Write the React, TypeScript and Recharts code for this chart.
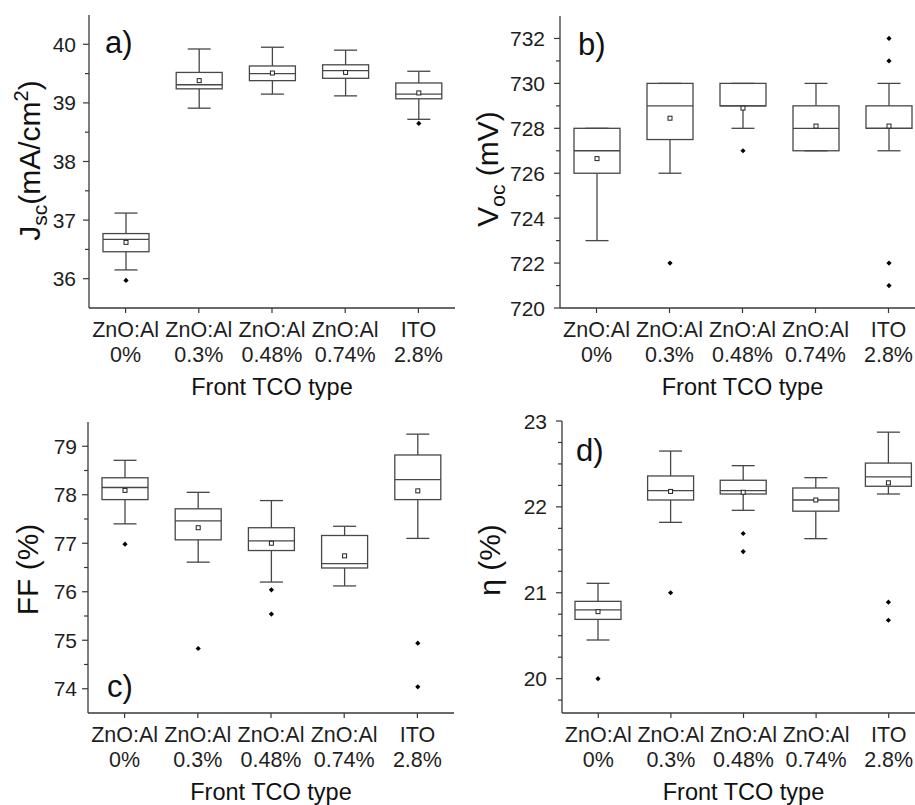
import React from 'react';
import { ComposedChart, Bar, XAxis, YAxis } from 'recharts';

const FONT = "'Liberation Sans', Arial, Helvetica, sans-serif";
const FRAME = '#383838';
const BOX = '#474747';
const TEXT = '#1e1e1e';

// Categories (two-line tick labels)
const tcoLine1 = ['ZnO:Al', 'ZnO:Al', 'ZnO:Al', 'ZnO:Al', 'ITO'];
const tcoLine2 = ['0%', '0.3%', '0.48%', '0.74%', '2.8%'];
const tcoNames = tcoLine1.map((a, i) => `${a} ${tcoLine2[i]}`);
const xAxisTitle = 'Front TCO type';

// a) Jsc (mA/cm2)
const jscMin = [36.15, 38.91, 39.15, 39.12, 38.72];
const jscQ1 = [36.46, 39.24, 39.38, 39.42, 39.07];
const jscMedian = [36.67, 39.31, 39.5, 39.55, 39.15];
const jscMean = [36.62, 39.38, 39.51, 39.52, 39.17];
const jscQ3 = [36.77, 39.52, 39.63, 39.65, 39.34];
const jscMax = [37.12, 39.92, 39.95, 39.9, 39.54];
const jscOutliers = [[35.97], [], [], [], [38.65]];
const jscMajorTicks = [36, 37, 38, 39, 40];
const jscMinorTicks = [36.5, 37.5, 38.5, 39.5];

// b) Voc (mV)
const vocMin = [723, 726, 728, 727, 727];
const vocQ1 = [726, 727.5, 729, 727, 728];
const vocMedian = [727, 729, 729, 728, 728];
const vocMean = [726.65, 728.45, 728.9, 728.1, 728.1];
const vocQ3 = [728, 730, 730, 729, 729];
const vocMax = [728, 730, 730, 730, 730];
const vocOutliers = [[], [722], [727], [], [732, 731, 722, 721]];
const vocMajorTicks = [720, 722, 724, 726, 728, 730, 732];
const vocMinorTicks = [721, 723, 725, 727, 729, 731];

// c) FF (%)
const ffMin = [77.4, 76.61, 76.2, 76.12, 77.1];
const ffQ1 = [77.9, 77.07, 76.85, 76.49, 77.9];
const ffMedian = [78.15, 77.46, 77.05, 76.58, 78.31];
const ffMean = [78.09, 77.32, 77.0, 76.74, 78.08];
const ffQ3 = [78.35, 77.71, 77.32, 77.16, 78.82];
const ffMax = [78.71, 78.05, 77.88, 77.35, 79.25];
const ffOutliers = [[76.98], [74.83], [76.04, 75.54], [], [74.94, 74.04]];
const ffMajorTicks = [74, 75, 76, 77, 78, 79];
const ffMinorTicks = [74.5, 75.5, 76.5, 77.5, 78.5];

// d) eta (%)
const etaMin = [20.45, 21.82, 21.96, 21.63, 22.15];
const etaQ1 = [20.69, 22.08, 22.15, 21.95, 22.24];
const etaMedian = [20.8, 22.19, 22.19, 22.08, 22.35];
const etaMean = [20.78, 22.18, 22.17, 22.08, 22.28];
const etaQ3 = [20.9, 22.36, 22.31, 22.22, 22.51];
const etaMax = [21.11, 22.65, 22.48, 22.34, 22.87];
const etaOutliers = [[20.0], [21.0], [21.69, 21.48], [], [20.89, 20.68]];
const etaMajorTicks = [20, 21, 22, 23];
const etaMinorTicks = [19.75, 20.25, 20.5, 20.75, 21.25, 21.5, 21.75, 22.25, 22.5, 22.75];

type Row = {
  name: string;
  range: [number, number];
  min: number;
  q1: number;
  median: number;
  mean: number;
  q3: number;
  max: number;
  outliers: number[];
};

function buildRows(
  min: number[],
  q1: number[],
  median: number[],
  mean: number[],
  q3: number[],
  max: number[],
  outliers: number[][]
): Row[] {
  return tcoNames.map((name, i) => ({
    name,
    range: [min[i], max[i]],
    min: min[i],
    q1: q1[i],
    median: median[i],
    mean: mean[i],
    q3: q3[i],
    max: max[i],
    outliers: outliers[i],
  }));
}

const BoxShape = (props: any) => {
  const { x, y, width, height, payload } = props;
  if (!payload || height == null || y == null) return null;
  const r: Row = payload;
  const top = Math.min(y, y + height);
  const h = Math.abs(height);
  const ppu = h / (r.max - r.min);
  const py = (v: number) => top + (r.max - v) * ppu;
  const cx = x + width / 2;
  const cap = width / 4;
  const sw = 1.3;
  return (
    <g>
      <line x1={cx} x2={cx} y1={py(r.max)} y2={py(r.q3)} stroke={BOX} strokeWidth={sw} />
      <line x1={cx} x2={cx} y1={py(r.q1)} y2={py(r.min)} stroke={BOX} strokeWidth={sw} />
      <line x1={cx - cap} x2={cx + cap} y1={py(r.max)} y2={py(r.max)} stroke={BOX} strokeWidth={sw} />
      <line x1={cx - cap} x2={cx + cap} y1={py(r.min)} y2={py(r.min)} stroke={BOX} strokeWidth={sw} />
      <rect
        x={x}
        y={py(r.q3)}
        width={width}
        height={py(r.q1) - py(r.q3)}
        fill="none"
        stroke={BOX}
        strokeWidth={sw}
      />
      <line x1={x} x2={x + width} y1={py(r.median)} y2={py(r.median)} stroke={BOX} strokeWidth={sw} />
      <rect x={cx - 2} y={py(r.mean) - 2} width={4} height={4} fill="#fff" stroke="#222" strokeWidth={1} />
      {r.outliers.map((o, k) => {
        const oy = py(o);
        const s = 2.6;
        return (
          <path
            key={k}
            d={`M${cx},${oy - s} L${cx + s},${oy} L${cx},${oy + s} L${cx - s},${oy} Z`}
            fill="#000"
          />
        );
      })}
    </g>
  );
};

type PanelProps = {
  pos: [number, number];
  size: [number, number];
  margin: { top: number; right: number; bottom: number; left: number };
  yWidth: number;
  domain: [number, number];
  majors: number[];
  minors: number[];
  rows: Row[];
  title: React.ReactNode;
  titleDx: number;
  titleDy: number;
  tag: string;
  tagDx: number;
  tagDy: number;
  labelGap: number;
};

function Panel(p: PanelProps) {
  const ticks = [...p.majors, ...p.minors].sort((a, b) => a - b);
  const axisLine = { stroke: FRAME, strokeWidth: 1.3 };

  const leftTick = (t: any) => {
    const v = t.payload.value;
    const major = p.majors.includes(v);
    return (
      <g>
        <line x1={t.x} x2={t.x - (major ? 6 : 4)} y1={t.y} y2={t.y} stroke={FRAME} strokeWidth={1.2} />
        {major && (
          <text
            x={t.x - p.labelGap}
            y={t.y}
            dy="0.36em"
            textAnchor="end"
            fontSize={21}
            fontFamily={FONT}
            fill={TEXT}
          >
            {v}
          </text>
        )}
      </g>
    );
  };
  const rightTick = (t: any) => (
    <line x1={t.x} x2={t.x + 4} y1={t.y} y2={t.y} stroke={FRAME} strokeWidth={1.2} />
  );
  const topTick = (t: any) => (
    <line x1={t.x} x2={t.x} y1={t.y} y2={t.y - 5} stroke={FRAME} strokeWidth={1.2} />
  );
  const bottomTick = (t: any) => {
    const i = tcoNames.indexOf(t.payload.value);
    return (
      <g>
        <line x1={t.x} x2={t.x} y1={t.y} y2={t.y + 5} stroke={FRAME} strokeWidth={1.2} />
        <text x={t.x} y={t.y + 29} textAnchor="middle" fontSize={21.5} fontFamily={FONT} fill={TEXT}>
          {tcoLine1[i]}
        </text>
        <text x={t.x} y={t.y + 54} textAnchor="middle" fontSize={21.5} fontFamily={FONT} fill={TEXT}>
          {tcoLine2[i]}
        </text>
      </g>
    );
  };

  const xTitle = (lp: any) => {
    const vb = lp.viewBox || lp;
    return (
      <text
        x={vb.x + vb.width / 2}
        y={vb.y + 87}
        textAnchor="middle"
        fontSize={23.5}
        fontFamily={FONT}
        fill="#111"
      >
        {xAxisTitle}
      </text>
    );
  };

  const yTitle = (lp: any) => {
    const vb = lp.viewBox || lp;
    const plotLeft = vb.x + vb.width;
    const plotTop = vb.y;
    const tx = plotLeft + p.titleDx;
    const ty = plotTop + vb.height / 2 + p.titleDy;
    return (
      <g>
        <text
          x={tx}
          y={ty}
          transform={`rotate(-90, ${tx}, ${ty})`}
          textAnchor="middle"
          fontSize={30}
          fontFamily={FONT}
          fill="#111"
        >
          {p.title}
        </text>
        <text x={plotLeft + p.tagDx} y={plotTop + p.tagDy} fontSize={31} fontFamily={FONT} fill="#111">
          {p.tag}
        </text>
      </g>
    );
  };

  return (
    <div style={{ position: 'absolute', left: p.pos[0], top: p.pos[1] }}>
      <ComposedChart width={p.size[0]} height={p.size[1]} data={p.rows} margin={p.margin}>
        <XAxis
          xAxisId="b"
          dataKey="name"
          orientation="bottom"
          height={92}
          interval={0}
          tickSize={0}
          tickMargin={0}
          tickLine={false}
          axisLine={axisLine}
          tick={bottomTick}
          label={xTitle}
        />
        <XAxis
          xAxisId="t"
          dataKey="name"
          orientation="top"
          height={0}
          interval={0}
          tickSize={0}
          tickMargin={0}
          tickLine={false}
          axisLine={axisLine}
          tick={topTick}
        />
        <YAxis
          yAxisId="l"
          orientation="left"
          type="number"
          width={p.yWidth}
          domain={p.domain}
          ticks={ticks}
          allowDataOverflow
          interval={0}
          tickSize={0}
          tickMargin={0}
          tickLine={false}
          axisLine={axisLine}
          tick={leftTick}
          label={yTitle}
        />
        <YAxis
          yAxisId="r"
          orientation="right"
          type="number"
          width={0}
          domain={p.domain}
          ticks={ticks}
          allowDataOverflow
          interval={0}
          tickSize={0}
          tickMargin={0}
          tickLine={false}
          axisLine={axisLine}
          tick={rightTick}
        />
        <Bar
          xAxisId="b"
          yAxisId="l"
          dataKey="range"
          barSize={46}
          shape={BoxShape}
          isAnimationActive={false}
        />
      </ComposedChart>
    </div>
  );
}

export default function App() {
  const jscRows = buildRows(jscMin, jscQ1, jscMedian, jscMean, jscQ3, jscMax, jscOutliers);
  const vocRows = buildRows(vocMin, vocQ1, vocMedian, vocMean, vocQ3, vocMax, vocOutliers);
  const ffRows = buildRows(ffMin, ffQ1, ffMedian, ffMean, ffQ3, ffMax, ffOutliers);
  const etaRows = buildRows(etaMin, etaQ1, etaMedian, etaMean, etaQ3, etaMax, etaOutliers);

  return (
    <div
      style={{
        position: 'fixed',
        left: 0,
        top: 0,
        width: 915,
        height: 805,
        overflow: 'hidden',
        background: '#fff',
        fontFamily: FONT,
      }}
    >
      <Panel
        pos={[0, 0]}
        size={[460, 400]}
        margin={{ top: 15, right: 5, bottom: 0, left: 0 }}
        yWidth={89}
        domain={[35.5, 40.5]}
        majors={jscMajorTicks}
        minors={jscMinorTicks}
        rows={jscRows}
        title={
          <>
            J<tspan fontSize={21} dy={7}>sc</tspan>
            <tspan dy={-7}>(mA/cm</tspan>
            <tspan fontSize={20} dy={-12}>2</tspan>
            <tspan dy={12}>)</tspan>
          </>
        }
        titleDx={-49}
        titleDy={-1}
        tag="a)"
        tagDx={16}
        tagDy={38}
        labelGap={13}
      />
      <Panel
        pos={[460, 0]}
        size={[470, 400]}
        margin={{ top: 16, right: 5, bottom: 0, left: 0 }}
        yWidth={100}
        domain={[720, 733]}
        majors={vocMajorTicks}
        minors={vocMinorTicks}
        rows={vocRows}
        title={
          <>
            V<tspan fontSize={21} dy={7}>oc</tspan>
            <tspan dy={-7}> (mV)</tspan>
          </>
        }
        titleDx={-62}
        titleDy={7}
        tag="b)"
        tagDx={18}
        tagDy={39}
        labelGap={15}
      />
      <Panel
        pos={[0, 400]}
        size={[460, 405]}
        margin={{ top: 22, right: 6, bottom: 0, left: 0 }}
        yWidth={88}
        domain={[73.5, 79.5]}
        majors={ffMajorTicks}
        minors={ffMinorTicks}
        rows={ffRows}
        title="FF (%)"
        titleDx={-50}
        titleDy={2}
        tag="c)"
        tagDx={19}
        tagDy={275}
        labelGap={11}
      />
      <Panel
        pos={[460, 400]}
        size={[470, 405]}
        margin={{ top: 21, right: 5, bottom: 0, left: 0 }}
        yWidth={102}
        domain={[19.6, 23]}
        majors={etaMajorTicks}
        minors={etaMinorTicks}
        rows={etaRows}
        title="η (%)"
        titleDx={-62}
        titleDy={-7}
        tag="d)"
        tagDx={14}
        tagDy={40}
        labelGap={15}
      />
    </div>
  );
}
